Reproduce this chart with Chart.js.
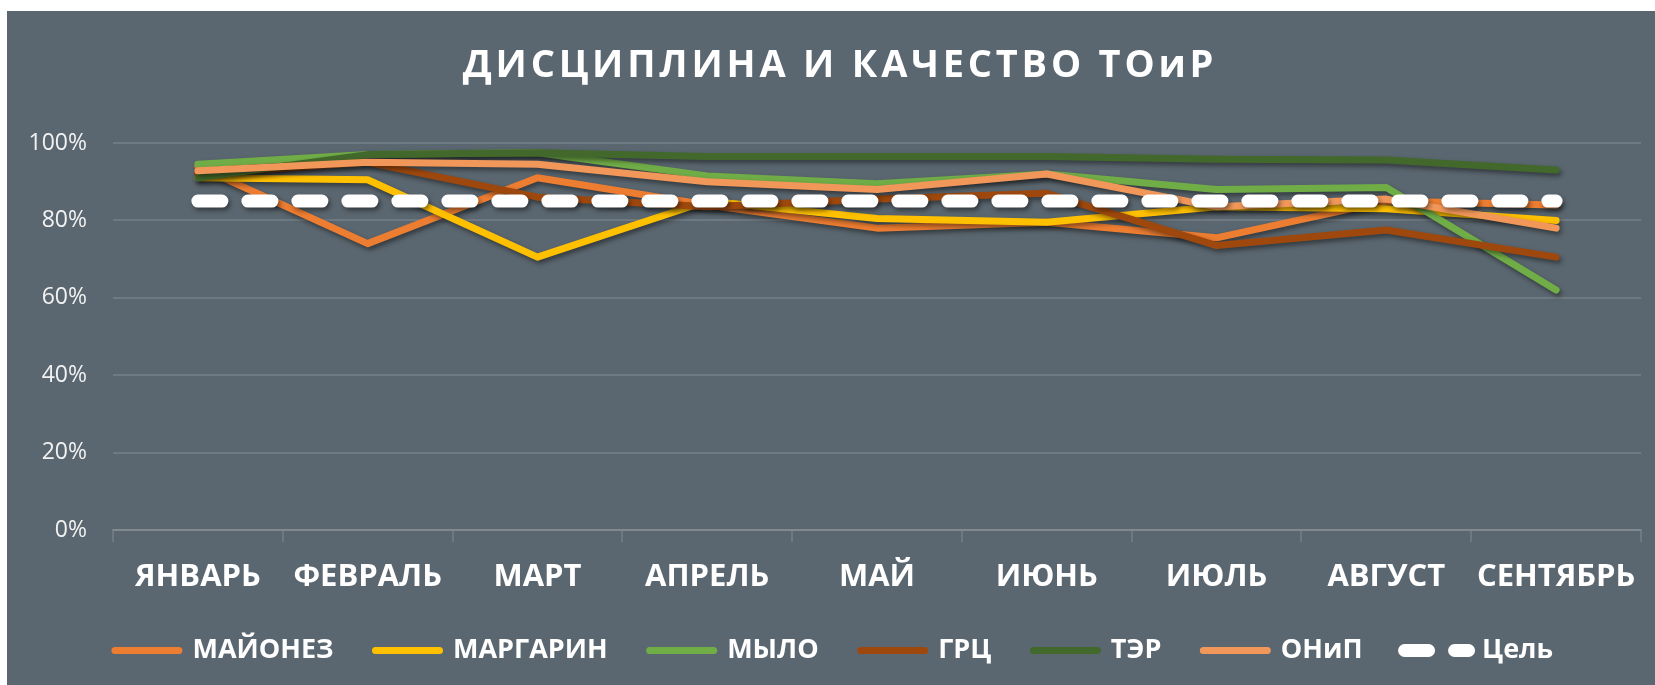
<!DOCTYPE html>
<html lang="ru">
<head>
<meta charset="UTF-8" />
<title>Дисциплина и качество ТОиР</title>
<script src="https://cdn.jsdelivr.net/npm/chart.js"></script>
<style>
  html, body { margin: 0; padding: 0; background: #ffffff; overflow: hidden; }
  #box { position: absolute; left: 7px; top: 11px; width: 1648px; height: 674px; background: #5b6770; overflow: hidden; }
  #box canvas { display: block; }
</style>
</head>
<body>
<div id="box"><canvas id="chart" width="1648" height="674"></canvas></div>

<script>
// данные (в процентах)
const chartTitle = "ДИСЦИПЛИНА И КАЧЕСТВО ТОиР";
const months = ["ЯНВАРЬ", "ФЕВРАЛЬ", "МАРТ", "АПРЕЛЬ", "МАЙ", "ИЮНЬ", "ИЮЛЬ", "АВГУСТ", "СЕНТЯБРЬ"];
const mayonez   = [94, 74, 91, 84, 78, 79.5, 75.5, 85, 84];
const margarin  = [91, 90.5, 70.5, 85, 80.5, 79.5, 83.5, 83, 80];
const mylo      = [94.5, 97, 97.5, 91.5, 89.5, 92, 88, 88.5, 62];
const grc       = [92, 95, 86, 83.5, 85.5, 87, 73.5, 77.5, 70.5];
const ter       = [91, 97, 97.5, 96.5, 96.5, 96.5, 95.8, 95.6, 93];
const onip      = [92.8, 95, 94.5, 90, 88, 92, 83.5, 85.5, 78];
const target    = [85, 85, 85, 85, 85, 85, 85, 85, 85];
const yTicks    = [0, 20, 40, 60, 80, 100];

const gridColor = "rgba(255,255,255,0.12)";
const targetDash = [24, 26];
Chart.defaults.font.family = '"Open Sans", sans-serif';

function series(label, data, color, idx) {
  return {
    label: label,
    data: data,
    borderColor: color,
    backgroundColor: color,
    borderWidth: 7,
    borderCapStyle: "round",
    borderJoinStyle: "round",
    pointRadius: 0,
    tension: 0,
    order: 20 - idx
  };
}

const datasets = [
  series("МАЙОНЕЗ", mayonez, "#ED7D31", 0),
  series("МАРГАРИН", margarin, "#FFC000", 1),
  series("МЫЛО", mylo, "#70AD47", 2),
  series("ГРЦ", grc, "#9E480E", 3),
  series("ТЭР", ter, "#43682B", 4),
  series("ОНиП", onip, "#F1975A", 5),
  Object.assign(series("Цель", target, "#FFFFFF", 6), { borderWidth: 13, borderDash: targetDash })
];

// тень под линиями, как в Excel
const shadowPlugin = {
  id: "lineShadow",
  beforeDatasetDraw(chart) {
    const ctx = chart.ctx;
    ctx.save();
    ctx.shadowColor = "rgba(0,0,0,0.45)";
    ctx.shadowBlur = 5;
    ctx.shadowOffsetX = 2;
    ctx.shadowOffsetY = 3;
  },
  afterDatasetDraw(chart) {
    chart.ctx.restore();
  }
};

// заголовок с разрядкой
const titlePlugin = {
  id: "spacedTitle",
  afterDraw(chart) {
    const ctx = chart.ctx;
    ctx.save();
    ctx.font = 'bold 38px "Open Sans"';
    ctx.fillStyle = "#ffffff";
    ctx.textAlign = "center";
    ctx.textBaseline = "middle";
    ctx.letterSpacing = "3.8px";
    ctx.fillText(chartTitle, 833, 55);
    ctx.restore();
  }
};

new Chart(document.getElementById("chart"), {
  type: "line",
  data: { labels: months, datasets: datasets },
  plugins: [shadowPlugin, titlePlugin],
  options: {
    responsive: false,
    devicePixelRatio: 1,
    animation: false,
    layout: { padding: { top: 132, right: 14, left: 20, bottom: 11 } },
    plugins: {
      title: { display: false },
      tooltip: { enabled: false },
      legend: {
        position: "bottom",
        labels: {
          usePointStyle: true,
          pointStyle: "line",
          pointStyleWidth: 64,
          padding: 42,
          color: "#ffffff",
          font: { size: 27, weight: "bold" },
          sort: (a, b) => a.datasetIndex - b.datasetIndex,
          generateLabels(chart) {
            const items = Chart.defaults.plugins.legend.labels.generateLabels(chart);
            items.forEach(it => {
              it.lineCap = "round";
              if (it.datasetIndex === 6) {
                it.lineDash = targetDash;
                it.lineDashOffset = 0;
              }
            });
            return items;
          }
        }
      }
    },
    scales: {
      x: {
        offset: true,
        grid: { offset: true, drawOnChartArea: false, drawTicks: true, tickLength: 12, color: gridColor, lineWidth: 2 },
        border: { display: true, color: gridColor, width: 2 },
        ticks: { color: "#ffffff", font: { size: 31, weight: "bold" }, padding: 17, autoSkip: false, maxRotation: 0 },
        afterFit(scale) { scale.height = 65; }
      },
      y: {
        min: 0,
        max: 100,
        afterBuildTicks(scale) { scale.ticks = yTicks.map(v => ({ value: v })); },
        ticks: { color: "#f2f2f2", font: { size: 23 }, padding: 26, callback: v => v + "%" },
        grid: { color: gridColor, lineWidth: 2, drawTicks: false },
        border: { display: false },
        afterFit(scale) { scale.width = 86; }
      }
    }
  }
});
</script>
</body>
</html>
